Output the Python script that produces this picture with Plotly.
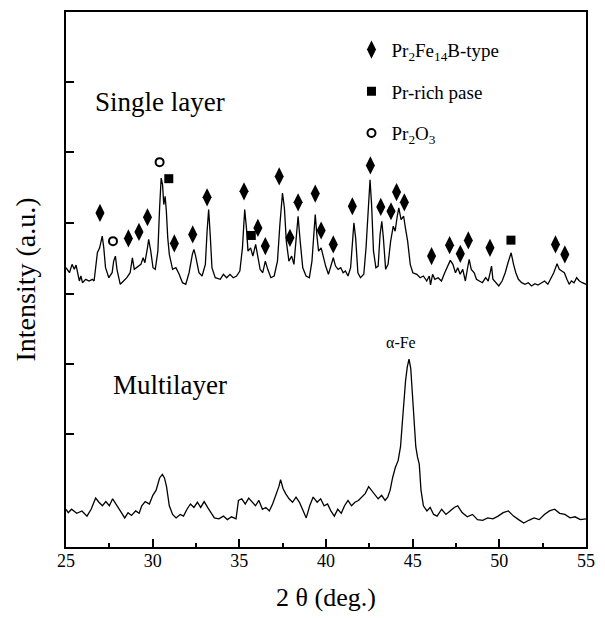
import plotly.graph_objects as go

# ---- XRD pattern of the single-layer film (offset upwards) ----
two_theta_single = [
    25.00, 25.20, 25.35, 25.48, 25.58, 25.67, 25.77, 25.86, 25.95, 26.14, 26.33, 26.52, 26.62, 26.71,
    26.81, 26.94, 27.09, 27.18, 27.28, 27.47, 27.66, 27.75, 27.85, 27.94, 28.13, 28.32, 28.51, 28.70,
    28.83, 28.94, 29.17, 29.32, 29.45, 29.55, 29.70, 29.77, 29.89, 30.02, 30.15, 30.30, 30.40, 30.49,
    30.57, 30.64, 30.72, 30.79, 30.87, 30.96, 31.15, 31.34, 31.53, 31.72, 31.91, 32.10, 32.29, 32.38,
    32.48, 32.67, 32.85, 33.04, 33.14, 33.23, 33.33, 33.42, 33.61, 33.90, 34.08, 34.27, 34.46, 34.65,
    34.84, 35.03, 35.18, 35.31, 35.41, 35.50, 35.65, 35.78, 35.94, 36.07, 36.20, 36.35, 36.50, 36.64,
    36.82, 37.01, 37.20, 37.34, 37.49, 37.60, 37.71, 37.86, 38.02, 38.15, 38.28, 38.39, 38.51, 38.66,
    38.85, 39.04, 39.19, 39.31, 39.38, 39.47, 39.57, 39.72, 39.85, 39.98, 40.14, 40.29, 40.42, 40.55,
    40.70, 40.85, 40.99, 41.12, 41.27, 41.42, 41.52, 41.61, 41.71, 41.84, 41.99, 42.18, 42.31, 42.44,
    42.54, 42.63, 42.74, 42.88, 43.01, 43.12, 43.22, 43.31, 43.44, 43.58, 43.73, 43.88, 43.99, 44.11,
    44.20, 44.33, 44.48, 44.58, 44.71, 44.86, 45.01, 45.24, 45.43, 45.62, 45.81, 45.96, 46.03, 46.15,
    46.28, 46.47, 46.66, 46.85, 47.04, 47.17, 47.32, 47.47, 47.60, 47.74, 47.89, 48.04, 48.17, 48.26,
    48.38, 48.55, 48.68, 48.83, 49.02, 49.21, 49.36, 49.47, 49.55, 49.63, 49.78, 49.97, 50.16, 50.34,
    50.50, 50.68, 50.82, 50.95, 51.10, 51.29, 51.48, 51.67, 51.86, 52.05, 52.23, 52.42, 52.61, 52.80,
    52.99, 53.14, 53.33, 53.46, 53.60, 53.75, 53.90, 54.03, 54.16, 54.31, 54.46, 54.62, 54.79, 55.00,
]
intensity_single = [
    280.3, 275.3, 283.7, 278.7, 283.0, 273.7, 267.0, 272.0, 265.3, 268.7, 267.0, 268.7, 267.0, 280.3,
    295.3, 300.3, 312.0, 300.3, 280.3, 270.3, 275.3, 287.0, 292.0, 278.7, 263.7, 267.0, 270.3, 275.3,
    290.3, 278.7, 282.0, 283.7, 290.3, 285.3, 300.3, 308.7, 297.0, 280.3, 278.7, 297.0, 340.3, 370.3,
    363.7, 343.7, 352.0, 337.0, 310.3, 293.7, 278.7, 280.3, 273.7, 265.3, 263.7, 275.3, 293.7, 298.7,
    292.0, 275.3, 272.0, 283.7, 317.0, 338.7, 310.3, 280.3, 270.3, 268.7, 273.7, 270.3, 273.7, 270.3,
    272.0, 277.0, 300.3, 338.7, 320.3, 297.0, 300.3, 292.0, 303.7, 288.7, 278.7, 275.3, 287.0, 278.7,
    270.3, 272.0, 287.0, 323.7, 355.3, 340.3, 307.0, 287.0, 292.0, 283.7, 307.0, 332.0, 307.0, 280.3,
    272.0, 270.3, 287.0, 320.3, 333.7, 313.7, 297.0, 300.3, 290.3, 282.0, 273.7, 282.0, 290.3, 282.0,
    278.7, 280.3, 275.3, 277.0, 272.0, 280.3, 307.0, 325.3, 310.3, 275.3, 270.3, 273.7, 300.3, 347.0,
    368.7, 343.7, 297.0, 280.3, 282.0, 313.7, 327.0, 310.3, 278.7, 283.7, 307.0, 322.0, 317.0, 332.0,
    340.3, 328.7, 332.0, 320.3, 307.0, 283.7, 275.3, 273.7, 270.3, 272.0, 267.0, 272.0, 263.0, 273.7,
    268.7, 270.3, 267.0, 275.3, 283.7, 287.7, 283.7, 275.3, 280.3, 273.7, 278.7, 267.0, 280.3, 288.7,
    278.7, 275.3, 268.7, 267.0, 265.3, 270.3, 267.0, 275.3, 282.0, 268.7, 265.3, 262.0, 267.0, 275.3,
    285.3, 295.3, 283.7, 275.3, 268.7, 265.3, 263.7, 265.3, 262.0, 264.3, 263.0, 265.3, 267.0, 263.7,
    270.3, 275.3, 284.3, 278.7, 277.0, 275.3, 268.7, 263.7, 267.0, 265.3, 270.3, 267.0, 265.3, 263.7,
]

# ---- XRD pattern of the multilayer film ----
two_theta_multi = [
    25.00, 25.13, 25.32, 25.62, 25.92, 26.21, 26.45, 26.71, 26.90, 27.10, 27.30, 27.50, 27.69, 27.89,
    28.09, 28.39, 28.58, 28.78, 29.02, 29.22, 29.37, 29.57, 29.81, 30.01, 30.20, 30.40, 30.56, 30.68,
    30.80, 30.96, 31.15, 31.35, 31.59, 31.78, 31.98, 32.18, 32.38, 32.58, 32.77, 32.97, 33.17, 33.37,
    33.56, 33.82, 34.08, 34.31, 34.55, 34.81, 34.95, 35.14, 35.34, 35.54, 35.74, 35.93, 36.13, 36.33,
    36.53, 36.73, 36.92, 37.12, 37.28, 37.38, 37.52, 37.67, 37.87, 38.07, 38.27, 38.47, 38.66, 38.86,
    39.06, 39.26, 39.49, 39.69, 39.89, 40.09, 40.28, 40.48, 40.68, 40.88, 41.07, 41.27, 41.47, 41.67,
    41.87, 42.06, 42.26, 42.46, 42.61, 42.81, 43.01, 43.21, 43.41, 43.56, 43.70, 43.84, 44.00, 44.16,
    44.30, 44.39, 44.49, 44.59, 44.69, 44.79, 44.89, 44.99, 45.09, 45.18, 45.28, 45.38, 45.48, 45.62,
    45.82, 46.01, 46.21, 46.41, 46.67, 46.92, 47.16, 47.40, 47.60, 47.85, 48.15, 48.45, 48.74, 49.04,
    49.33, 49.63, 49.93, 50.22, 50.52, 50.82, 51.11, 51.41, 51.70, 52.00, 52.30, 52.60, 52.89, 53.19,
    53.48, 53.78, 54.08, 54.37, 54.67, 55.00,
]
intensity_multi = [
    37.9, 34.5, 37.9, 33.8, 36.2, 31.0, 37.9, 49.1, 44.9, 41.4, 45.6, 41.4, 48.4, 43.2,
    37.9, 29.2, 34.5, 31.7, 36.2, 33.8, 41.4, 45.6, 43.2, 51.9, 57.1, 69.3, 72.8, 69.3,
    60.6, 41.4, 32.7, 29.2, 32.7, 31.0, 37.9, 43.2, 39.7, 44.9, 39.7, 45.6, 39.7, 34.5,
    29.2, 28.2, 31.0, 27.5, 30.3, 28.2, 46.7, 48.4, 43.2, 49.1, 44.9, 41.4, 46.7, 37.9,
    39.7, 36.2, 43.2, 51.9, 60.6, 67.6, 58.8, 53.6, 48.4, 44.9, 50.1, 44.9, 37.9, 29.2,
    41.4, 50.1, 44.9, 48.4, 41.4, 43.2, 36.2, 31.0, 37.9, 33.8, 41.4, 46.7, 41.4, 44.9,
    46.7, 50.1, 53.6, 60.6, 57.1, 53.6, 48.4, 51.9, 46.7, 50.1, 57.1, 69.3, 79.8, 86.7,
    100.7, 121.6, 146.0, 166.9, 180.8, 188.5, 179.1, 152.9, 125.0, 100.7, 90.2, 83.2, 57.1, 41.4,
    36.2, 39.7, 32.7, 31.0, 37.9, 32.7, 36.2, 39.7, 41.4, 34.5, 30.3, 32.7, 27.5, 26.8,
    29.2, 28.2, 31.0, 34.5, 36.2, 31.0, 27.5, 24.0, 26.8, 29.2, 27.5, 32.7, 36.2, 37.9,
    33.8, 32.7, 29.2, 30.3, 27.5, 28.2,
]

# ---- phase identification marks above the single-layer peaks ----
pr2fe14b_x = [26.96, 28.60, 29.21, 29.70, 31.25, 32.31, 33.14, 35.27, 36.07, 36.50, 37.30, 37.92,
              38.39, 39.38, 39.72, 40.42, 41.52, 42.56, 43.16, 43.75, 44.07, 44.52, 46.09, 47.13,
              47.75, 48.21, 49.46, 53.24, 53.78]
pr2fe14b_y = [335.3, 309.7, 316.3, 331.0, 304.7, 313.7, 351.0, 357.0, 320.3, 302.0, 372.0, 310.3,
              346.0, 354.7, 317.7, 303.7, 342.0, 383.0, 341.3, 337.0, 356.3, 346.0, 292.0, 303.0,
              294.3, 307.7, 300.3, 303.7, 293.7]
pr_rich_x = [30.93, 35.69, 50.67]
pr_rich_y = [369.7, 312.7, 308.0]
pr2o3_x = [27.71, 30.40]
pr2o3_y = [307.0, 386.3]

x_ticks = [25, 30, 35, 40, 45, 50, 55]
y_ticks = [113, 184, 254, 325, 396, 467]

SERIF = "Liberation Serif, Times New Roman, serif"

fig = go.Figure()

fig.add_trace(go.Scatter(x=two_theta_single, y=intensity_single, mode="lines",
                         name="Single layer", showlegend=False,
                         line=dict(color="black", width=1.3)))
fig.add_trace(go.Scatter(x=two_theta_multi, y=intensity_multi, mode="lines",
                         name="Multilayer", showlegend=False,
                         line=dict(color="black", width=1.3)))

fig.add_trace(go.Scatter(x=pr2fe14b_x, y=pr2fe14b_y, mode="markers",
                         name="Pr<sub>2</sub>Fe<sub>14</sub>B-type", legendgroup="a",
                         marker=dict(symbol="diamond-tall", size=13, color="black")))
fig.add_trace(go.Scatter(x=pr_rich_x, y=pr_rich_y, mode="markers",
                         name="Pr-rich pase", legendgroup="b",
                         marker=dict(symbol="square", size=9, color="black")))
fig.add_trace(go.Scatter(x=pr2o3_x, y=pr2o3_y, mode="markers",
                         name="Pr<sub>2</sub>O<sub>3</sub>", legendgroup="c",
                         marker=dict(symbol="circle-open", size=8, color="black",
                                     line=dict(color="black", width=2))))

fig.add_annotation(x=30.42, y=447, text="Single layer", showarrow=False,
                   font=dict(family=SERIF, size=27, color="black"))
fig.add_annotation(x=30.98, y=163, text="Multilayer", showarrow=False,
                   font=dict(family=SERIF, size=27, color="black"))
fig.add_annotation(x=44.34, y=205, text="\u03b1-Fe", showarrow=False,
                   font=dict(family=SERIF, size=16, color="black"))

fig.update_layout(
    width=605, height=618,
    margin=dict(l=66, r=11, t=10, b=71),
    paper_bgcolor="white", plot_bgcolor="white",
    font=dict(family=SERIF, color="black"),
    legend=dict(x=0.549, y=0.965, xanchor="left", yanchor="top",
                bgcolor="rgba(0,0,0,0)", font=dict(family=SERIF, size=19, color="black"),
                traceorder="grouped", tracegroupgap=14, itemwidth=30),
    xaxis=dict(
        range=[25, 55], tickvals=x_ticks, ticks="inside", ticklen=8, tickwidth=1.5,
        tickcolor="black", showline=True, linewidth=2, linecolor="black", mirror=True,
        showgrid=False, zeroline=False, ticklabelstandoff=-4,
        tickfont=dict(family=SERIF, size=18, color="black"),
        minor=dict(dtick=2.5, tick0=25, ticks="inside", ticklen=4, tickwidth=1.5,
                   tickcolor="black", showgrid=False),
        title=dict(text="2 \u03b8 (deg.)", font=dict(family=SERIF, size=26, color="black"),
                   standoff=18),
    ),
    yaxis=dict(
        range=[0, 537], tickvals=y_ticks, showticklabels=False, ticks="inside",
        ticklen=8, tickwidth=1.5, tickcolor="black", showline=True, linewidth=2,
        linecolor="black", mirror=True, showgrid=False, zeroline=False,
        title=dict(text="Intensity (a.u.)", font=dict(family=SERIF, size=28, color="black"),
                   standoff=20),
    ),
)

fig.write_html("out.html")
